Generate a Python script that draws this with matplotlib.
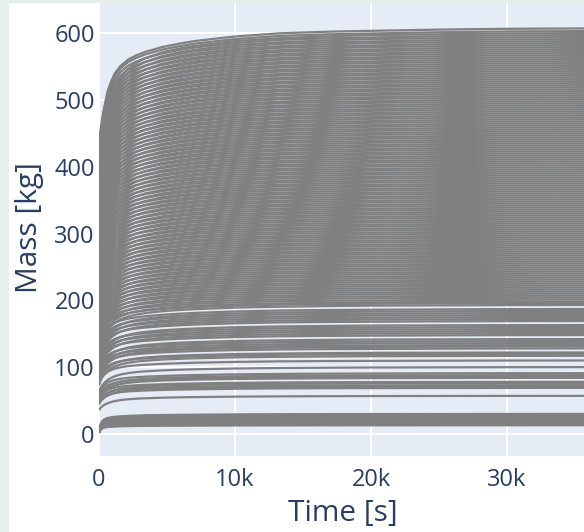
import matplotlib
matplotlib.use("Agg")
import matplotlib.pyplot as plt
import numpy as np
from matplotlib.patches import Rectangle

# ---- data ----
# time points (s) at which the normalised curve shapes were read
t_pts = [0, 100, 220, 330, 440, 660, 900, 1180, 1600, 2140, 2700, 3390, 4650,
         6000, 7080, 10000, 13350, 17000, 20000, 25000, 30000, 36000]
# fraction of final mass reached (fast-rising curves)
shape_fast = [0.70, 0.745, 0.774, 0.796, 0.815, 0.848, 0.870, 0.890, 0.908, 0.923,
              0.933, 0.942, 0.954, 0.963, 0.969, 0.980, 0.988, 0.992, 0.994, 0.997,
              0.999, 1.0]
# fraction of final mass reached (slower-rising curves)
shape_slow = [0.62, 0.68, 0.72, 0.75, 0.775, 0.81, 0.84, 0.865, 0.89, 0.91,
              0.925, 0.937, 0.952, 0.962, 0.968, 0.980, 0.987, 0.992, 0.995, 0.997,
              0.999, 1.0]
# fraction of final mass for the low band (starts near zero)
shape_low = [0.12, 0.45, 0.62, 0.70, 0.75, 0.80, 0.83, 0.86, 0.88, 0.90,
             0.915, 0.93, 0.945, 0.955, 0.962, 0.975, 0.985, 0.99, 0.993, 0.996,
             0.998, 1.0]

# final masses (kg) of the curves
final_dense = [
    117, 120, 122, 128, 131, 133, 136, 139, 142, 148, 151, 154, 157, 160,
    163, 169, 172, 175, 178, 181, 184, 187, 193, 196, 198,
    201, 204, 207, 210, 213, 216, 219, 222, 225, 228, 231, 234, 237, 240, 243, 246,
    249, 252, 255, 258, 261, 264, 267, 270, 273, 276, 279, 282, 285, 288, 291, 294,
    297, 300, 303, 306, 309, 312, 315, 318, 321, 324, 327, 330, 333, 336, 339, 342,
    345, 348, 351, 354, 357, 360, 363, 366, 369, 372, 375, 378, 381, 384, 387, 390,
    393, 396, 399, 402, 405, 408, 411, 414, 417, 420, 423, 426, 429, 432, 435, 438,
    441, 444, 447, 450, 453, 456, 459, 462, 465, 468, 471, 474, 477, 480, 483, 486,
    489, 492, 495, 498, 501, 504, 507, 510, 513, 516, 519, 522, 525, 528, 531, 534,
    537, 540, 543, 546, 549, 552, 555, 558, 561, 564, 567, 570, 573, 576, 579, 582,
    585, 588, 591, 594, 597, 600, 603, 607]
final_mid = [110, 100, 91, 88, 86, 84, 78, 76, 73, 71, 69, 57]
final_low = [13, 14, 15, 16, 17, 18, 19, 20, 21, 22, 23, 24, 25, 26, 27, 28, 29, 30]

x_ticks = [0, 10000, 20000, 30000]
x_ticklabels = ["0", "10k", "20k", "30k"]
y_ticks = [0, 100, 200, 300, 400, 500, 600]

# ---- figure ----
W, H = 584, 532
fig = plt.figure(figsize=(W / 100, H / 100), dpi=100)
fig.patch.set_facecolor("white")
fig.patches.append(Rectangle((0, 0), 9 / W, 1, transform=fig.transFigure,
                             facecolor="#e6f0ea", edgecolor="none", zorder=0))
fig.patches.append(Rectangle((0, 1 - 3 / H), 1, 3 / H, transform=fig.transFigure,
                             facecolor="#e6f0ea", edgecolor="none", zorder=0))

ax = fig.add_axes([99 / W, (H - 456) / H, (W - 99) / W, (456 - 3) / H])
ax.set_facecolor("#e5ecf6")
for s in ax.spines.values():
    s.set_visible(False)

t = np.array(t_pts, dtype=float)
sf = np.array(shape_fast)
ss = np.array(shape_slow)
sl = np.array(shape_low)

line_kw = dict(color="#808080", lw=1.6, solid_capstyle="butt", zorder=2)
for i, m in enumerate(final_dense):
    shp = sf if (i % 2 == 1 or m == final_dense[-1]) else ss
    ax.plot(t, m * shp, **line_kw)
for i, m in enumerate(final_mid):
    shp = sf if i % 2 == 0 else ss
    ax.plot(t, m * shp, **line_kw)
for m in final_low:
    ax.plot(t, m * sl, **line_kw)

ax.set_xlim(0, 35660)
ax.set_ylim(-33, 645)
ax.set_xticks(x_ticks)
ax.set_xticklabels(x_ticklabels)
ax.set_yticks(y_ticks)
ax.set_axisbelow(True)
ax.grid(True, color="white", lw=1.5, zorder=1)
ax.tick_params(axis="both", length=0, labelcolor="#2a3f5f", labelsize=17)
ax.tick_params(axis="x", pad=9)
ax.tick_params(axis="y", pad=3)
for lab in ax.get_xticklabels() + ax.get_yticklabels():
    lab.set_fontfamily("Open Sans")

fig.text(343 / W, 1 - 514 / H, "Time [s]", ha="center", va="center",
         fontsize=21.5, color="#2a3f5f", family="Open Sans")
fig.text(29 / W, 1 - 228 / H, "Mass [kg]", ha="center", va="center", rotation=90,
         fontsize=21.5, color="#2a3f5f", family="Open Sans")

fig.savefig("out.png", dpi=100)
